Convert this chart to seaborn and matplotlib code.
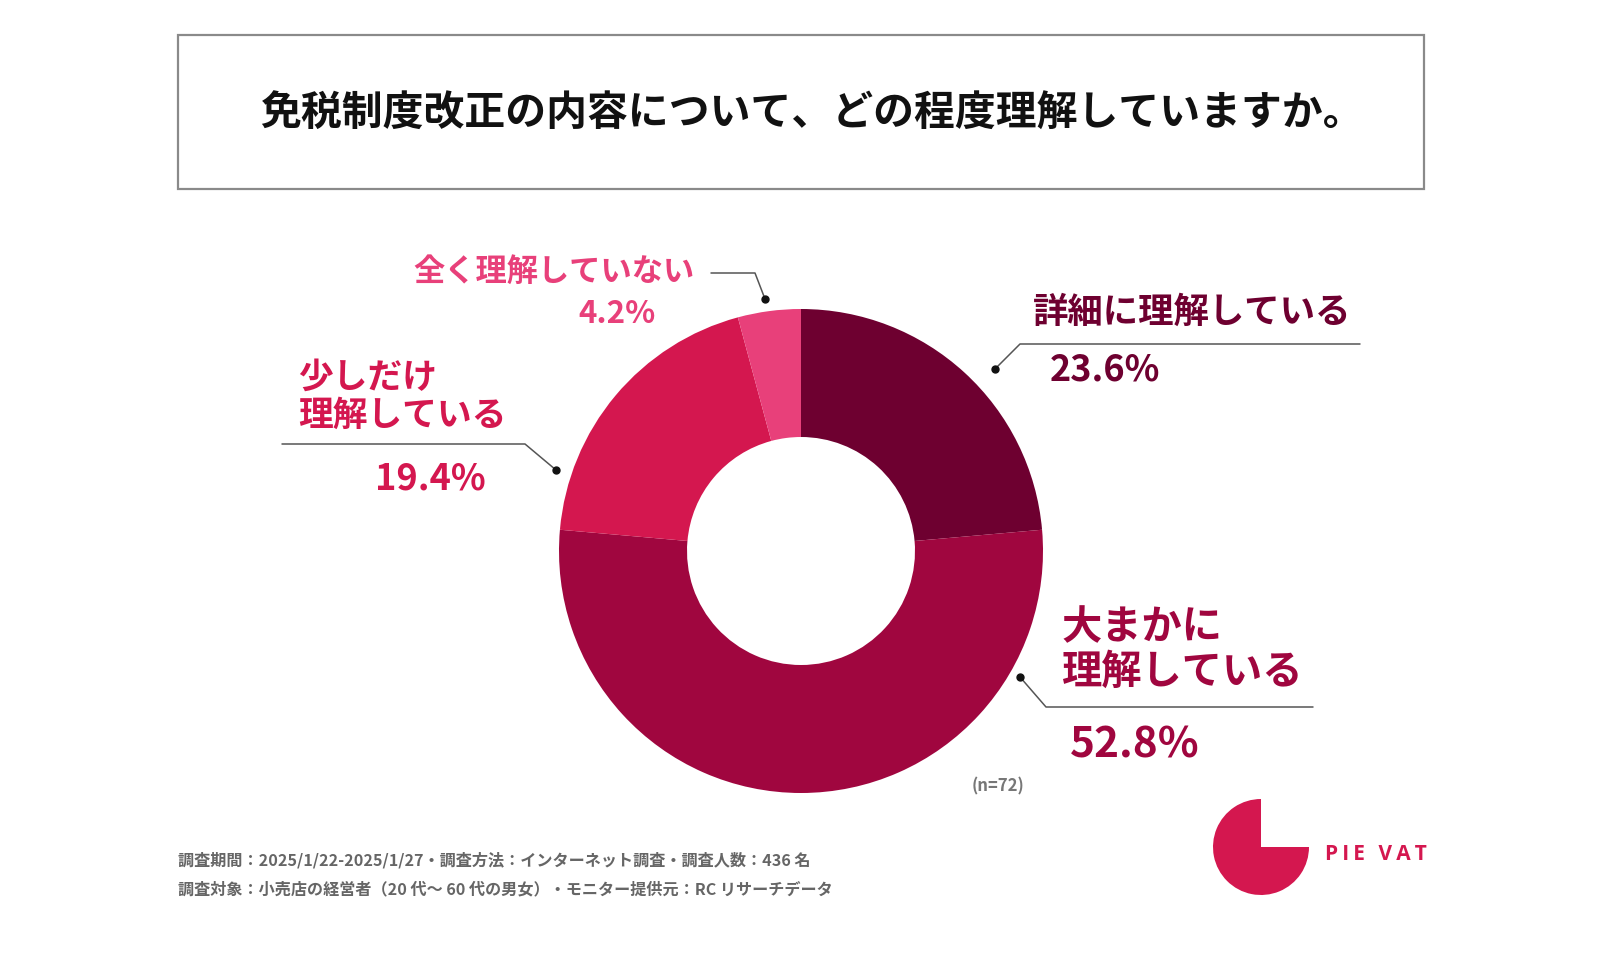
import matplotlib
matplotlib.use("Agg")
import matplotlib.pyplot as plt
from matplotlib.patches import Rectangle, Wedge
import seaborn as sns

# data
labels = ["詳細に理解している", "大まかに\n理解している", "少しだけ\n理解している", "全く理解していない"]
values = [23.6, 52.8, 19.4, 4.2]
colors = ["#6E0030", "#A0063F", "#D4174F", "#E8407A"]
n_resp = 72

title = "免税制度改正の内容について、どの程度理解していますか。"
notes = ["調査期間：2025/1/22-2025/1/27・調査方法：インターネット調査・調査人数：436 名",
         "調査対象：小売店の経営者（20 代～ 60 代の男女）・モニター提供元：RC リサーチデータ"]

sns.set_theme(style="white")
plt.rcParams["font.family"] = ["Noto Sans CJK JP", "DejaVu Sans"]

W, H = 1600, 968
fig = plt.figure(figsize=(16, 9.68), dpi=100)
ax = fig.add_axes([0, 0, 1, 1])
ax.set_xlim(0, W)
ax.set_ylim(H, 0)
ax.set_aspect("equal")
ax.axis("off")

# title box
ax.add_patch(Rectangle((178, 35), 1246, 154, fill=False, ec="#8a8a8a", lw=1.6))
ax.text(812, 114, title, ha="center", va="center", fontsize=29.4, fontweight="bold", color="#111111")

# donut (y axis inverted, so counterclock=True draws clockwise on screen)
cx, cy, r = 801, 551, 242
ax.pie(values, colors=colors, startangle=-90, counterclock=True, center=(cx, cy), radius=r,
       wedgeprops=dict(width=128, linewidth=0), frame=True)
ax.set_xlim(0, W)
ax.set_ylim(H, 0)
ax.axis("off")

line_kw = dict(color="#555555", lw=1.1)
dot_kw = dict(color="#111111", markersize=5, marker="o", linestyle="none")

# 詳細に理解している
ax.text(1033, 312, labels[0], ha="left", va="center", fontsize=25.5, fontweight="bold", color=colors[0])
ax.plot([995, 1020, 1360], [369, 344, 344], **line_kw)
ax.plot([995], [369], **dot_kw)
ax.text(1105, 370, f"{values[0]}%", ha="center", va="center", fontsize=26, fontweight="bold", color=colors[0])

# 大まかに理解している
ax.text(1062, 650, labels[1], ha="left", va="center", fontsize=29, fontweight="bold", color=colors[1],
        linespacing=1.1)
ax.plot([1020, 1046, 1313], [677, 707, 707], **line_kw)
ax.plot([1020], [677], **dot_kw)
ax.text(1135, 745, f"{values[1]}%", ha="center", va="center", fontsize=30.5, fontweight="bold", color=colors[1])

# 少しだけ理解している
ax.text(298, 396, labels[2], ha="left", va="center", fontsize=25, fontweight="bold", color=colors[2],
        linespacing=1.1)
ax.plot([282, 525, 556], [444, 444, 470], **line_kw)
ax.plot([556], [470], **dot_kw)
ax.text(430, 479, f"{values[2]}%", ha="center", va="center", fontsize=26, fontweight="bold", color=colors[2])

# 全く理解していない
ax.text(413, 272, labels[3], ha="left", va="center", fontsize=22.5, fontweight="bold", color=colors[3])
ax.plot([711, 755, 765], [273, 273, 299], **line_kw)
ax.plot([765], [299], **dot_kw)
ax.text(617, 314, f"{values[3]}%", ha="center", va="center", fontsize=22.5, fontweight="bold", color=colors[3])

ax.text(998, 786, f"(n={n_resp})", ha="center", va="center", fontsize=12, fontweight="bold", color="#777777")

# footnotes
ax.text(178, 860, notes[0], ha="left", va="center", fontsize=11.6, fontweight="bold", color="#666666")
ax.text(178, 889, notes[1], ha="left", va="center", fontsize=11.6, fontweight="bold", color="#666666")

# logo
ax.add_patch(Wedge((1261, 847), 48, 0, 270, color="#D4174F", lw=0))
ax.text(1376, 855, "\u2009".join("PIE") + "\u2009\u2009 " + "\u2009".join("VAT"), ha="center", va="center",
        fontsize=15, fontweight="bold", color="#D4174F", family=["Open Sans", "DejaVu Sans"])

fig.savefig("out.png", dpi=100, facecolor="white")
